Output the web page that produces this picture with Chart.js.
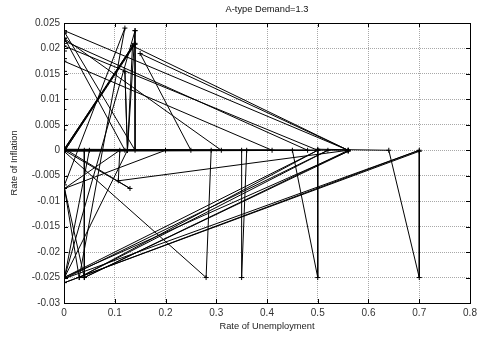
<!DOCTYPE html>
<html>
<head>
<meta charset="utf-8">
<script src="https://cdn.jsdelivr.net/npm/chart.js@4"></script>
<style>
html,body{margin:0;padding:0;background:#fff;}
</style>
</head>
<body>
<canvas id="mycanvas" width="478" height="337"></canvas>
<script>
// trajectory of the economy
var unemployment = [
  0, 0, 0, 0, 0.001, 0.001, 0.001, 0.001, 0.001, 0.001, 0.001,
  0.56, 0, 0, 0.5, 0, 0, 0.48, 0, 0, 0.41, 0, 0, 0.31, 0,
  0.14, 0.001, 0.135, 0.002, 0.14, 0.14, 0.14, 0.001, 0.001, 0.12, 0,
  0.13, 0.001, 0.001, 0.12, 0.03, 0.001, 0.11, 0.107, 0.56,
  0.04, 0.56, 0, 0.5, 0.03, 0.52, 0.001, 0.7, 0.001, 0.7,
  0.7, 0.64, 0.5, 0.5, 0.45, 0.36, 0.35, 0.35, 0.29, 0.28, 0,
  0.001, 0.05, 0.04, 0.04, 0.001, 0.2, 0.25, 0.15, 0.56,
  0.135, 0.125, 0.12, 0.125, 0.14, 0.001, 0.125
];
var inflation = [
  0, 0.004, 0.008, 0.012, 0.0155, 0.018, 0.0195, 0.021, 0.022, 0.023, 0.0235,
  0, 0.0002, 0.0205, 0, -0.0002, 0.0215, 0, 0.0001, 0.0175, 0, 0, 0.022, 0, 0,
  0.021, 0.0003, 0.0205, 0, 0.0208, 0.0235, 0, 0.0232, 0.022, 0, 0,
  -0.0075, 0.0003, -0.0068, 0.024, -0.025, -0.0075, 0, -0.006, 0,
  -0.025, -0.0002, -0.025, 0, -0.025, 0, -0.0252, 0, -0.026, -0.0002,
  -0.025, 0, 0.0002, -0.025, 0, 0, -0.025, 0, 0, -0.025, -0.0002,
  -0.025, 0, 0, -0.025, -0.0075, 0, 0, 0.019, 0,
  0.0205, 0, 0.0155, 0, 0.0235, -0.025, 0.0
];
var xTicks = [0, 0.1, 0.2, 0.3, 0.4, 0.5, 0.6, 0.7, 0.8];
var yTicks = [-0.03, -0.025, -0.02, -0.015, -0.01, -0.005, 0, 0.005, 0.01, 0.015, 0.02, 0.025];
var chartTitle = "A-type Demand=1.3";

var points = [];
for (var i in unemployment) {
  points.push({x: unemployment[i], y: inflation[i]});
}

function fmt(v) { return String(parseFloat(Number(v).toFixed(3))); }

// frame with inward ticks on all four sides, plus the title
var frame = {
  id: 'frame',
  afterDraw: function(chart) {
    var ctx = chart.ctx, a = chart.chartArea;
    var sx = chart.scales.x, sy = chart.scales.y;
    ctx.save();
    ctx.strokeStyle = '#000';
    ctx.lineWidth = 1;
    ctx.beginPath();
    xTicks.forEach(function(t) {
      var px = Math.round(sx.getPixelForValue(t)) + 0.5;
      ctx.moveTo(px, a.bottom); ctx.lineTo(px, a.bottom - 4);
      ctx.moveTo(px, a.top); ctx.lineTo(px, a.top + 4);
    });
    yTicks.forEach(function(t) {
      var py = Math.round(sy.getPixelForValue(t)) + 0.5;
      ctx.moveTo(a.left, py); ctx.lineTo(a.left + 4, py);
      ctx.moveTo(a.right, py); ctx.lineTo(a.right - 4, py);
    });
    ctx.stroke();
    ctx.strokeRect(Math.round(a.left) + 0.5, Math.round(a.top) + 0.5,
      Math.round(a.right - a.left), Math.round(a.bottom - a.top));
    ctx.fillStyle = '#111';
    ctx.font = '9.3px "Liberation Sans", Arial, sans-serif';
    ctx.textAlign = 'center';
    ctx.textBaseline = 'middle';
    ctx.fillText(chartTitle, (a.left + a.right) / 2, 9.5);
    ctx.restore();
  }
};

var ctx = document.getElementById('mycanvas');
var LineGraph = new Chart(ctx, {
  type: 'scatter',
  data: {
    datasets: [{
      label: 'trajectory',
      data: points,
      showLine: true,
      tension: 0,
      borderColor: '#000',
      borderWidth: 1,
      pointStyle: 'cross',
      pointRadius: 2.5,
      pointBorderWidth: 1,
      pointBorderColor: '#000',
      pointBackgroundColor: '#000'
    }]
  },
  options: {
    responsive: false,
    animation: false,
    layout: { padding: { top: 23, right: 8, left: 0, bottom: 0 } },
    plugins: { legend: { display: false }, tooltip: { enabled: false } },
    scales: {
      x: {
        type: 'linear', min: 0, max: 0.8,
        afterBuildTicks: function(s) { s.ticks = xTicks.map(function(v) { return {value: v}; }); },
        afterFit: function(s) { s.height = 34; s.paddingRight = 0; s.paddingLeft = 0; },
        grid: { color: '#a8a8a8', drawTicks: false },
        border: { display: false, dash: [1, 1] },
        ticks: { padding: 4, color: '#333', maxRotation: 0, autoSkip: false,
                 font: { family: '"Liberation Sans", Arial, sans-serif', size: 10 },
                 callback: fmt },
        title: { display: true, text: 'Rate of Unemployment', color: '#222',
                 padding: { top: 2, bottom: 5 },
                 font: { family: '"Liberation Sans", Arial, sans-serif', size: 9.3 } }
      },
      y: {
        type: 'linear', min: -0.03, max: 0.025,
        afterBuildTicks: function(s) { s.ticks = yTicks.map(function(v) { return {value: v}; }); },
        afterFit: function(s) { s.width = 64; s.paddingTop = 0; s.paddingBottom = 0; },
        grid: { color: '#a8a8a8', drawTicks: false },
        border: { display: false, dash: [1, 1] },
        ticks: { padding: 4, color: '#333', autoSkip: false,
                 font: { family: '"Liberation Sans", Arial, sans-serif', size: 10 },
                 callback: fmt },
        title: { display: true, text: 'Rate of Inflation', color: '#222',
                 padding: { top: 9, bottom: 9 },
                 font: { family: '"Liberation Sans", Arial, sans-serif', size: 9.3 } }
      }
    }
  },
  plugins: [frame]
});
</script>
</body>
</html>
